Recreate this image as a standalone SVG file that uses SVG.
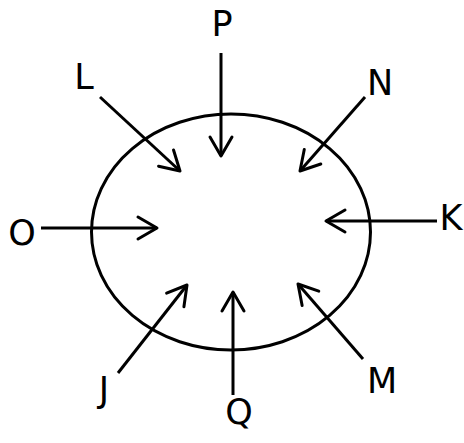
<svg xmlns="http://www.w3.org/2000/svg" width="464" height="443" viewBox="0 0 464 443">
<style>
.c{fill:none;stroke:#000;stroke-width:3}
.a{fill:none;stroke:#000;stroke-width:3;marker-end:url(#h)}
.t{font-family:"DejaVu Sans",Verdana,sans-serif;font-size:35px;fill:#000;text-anchor:middle}
</style>
<defs>
<marker id="h" markerUnits="userSpaceOnUse" markerWidth="30" markerHeight="30" viewBox="-25 -15 30 30" refX="0" refY="0" orient="auto" overflow="visible">
<path d="M-19,-11 L0,0 L-19,11" fill="none" stroke="#000" stroke-width="3" stroke-linecap="round" stroke-linejoin="round"/>
</marker>
</defs>
<rect width="464" height="443" fill="#fff"/>
<g id="circle"><ellipse class="c" cx="231" cy="232" rx="139.5" ry="118"/></g>
<g id="connectors">
<line class="a" x1="221" y1="53" x2="221" y2="156"/>
<line class="a" x1="100" y1="97" x2="180" y2="171"/>
<line class="a" x1="365" y1="97" x2="300" y2="171"/>
<line class="a" x1="41" y1="228" x2="157" y2="228"/>
<line class="a" x1="437" y1="221" x2="326" y2="221"/>
<line class="a" x1="118" y1="373" x2="187" y2="285"/>
<line class="a" x1="233" y1="395" x2="233" y2="292"/>
<line class="a" x1="363" y1="359" x2="298" y2="284"/>
</g>
<g id="P"><text class="t" x="222" y="36">P</text></g>
<g id="L"><text class="t" x="84" y="89">L</text></g>
<g id="N"><text class="t" x="380" y="95">N</text></g>
<g id="O"><text class="t" x="22" y="245">O</text></g>
<g id="K"><text class="t" x="451" y="230">K</text></g>
<g id="J"><text class="t" x="104" y="402">J</text></g>
<g id="Q"><text class="t" x="239" y="424">Q</text></g>
<g id="M"><text class="t" x="382" y="393">M</text></g>
</svg>
